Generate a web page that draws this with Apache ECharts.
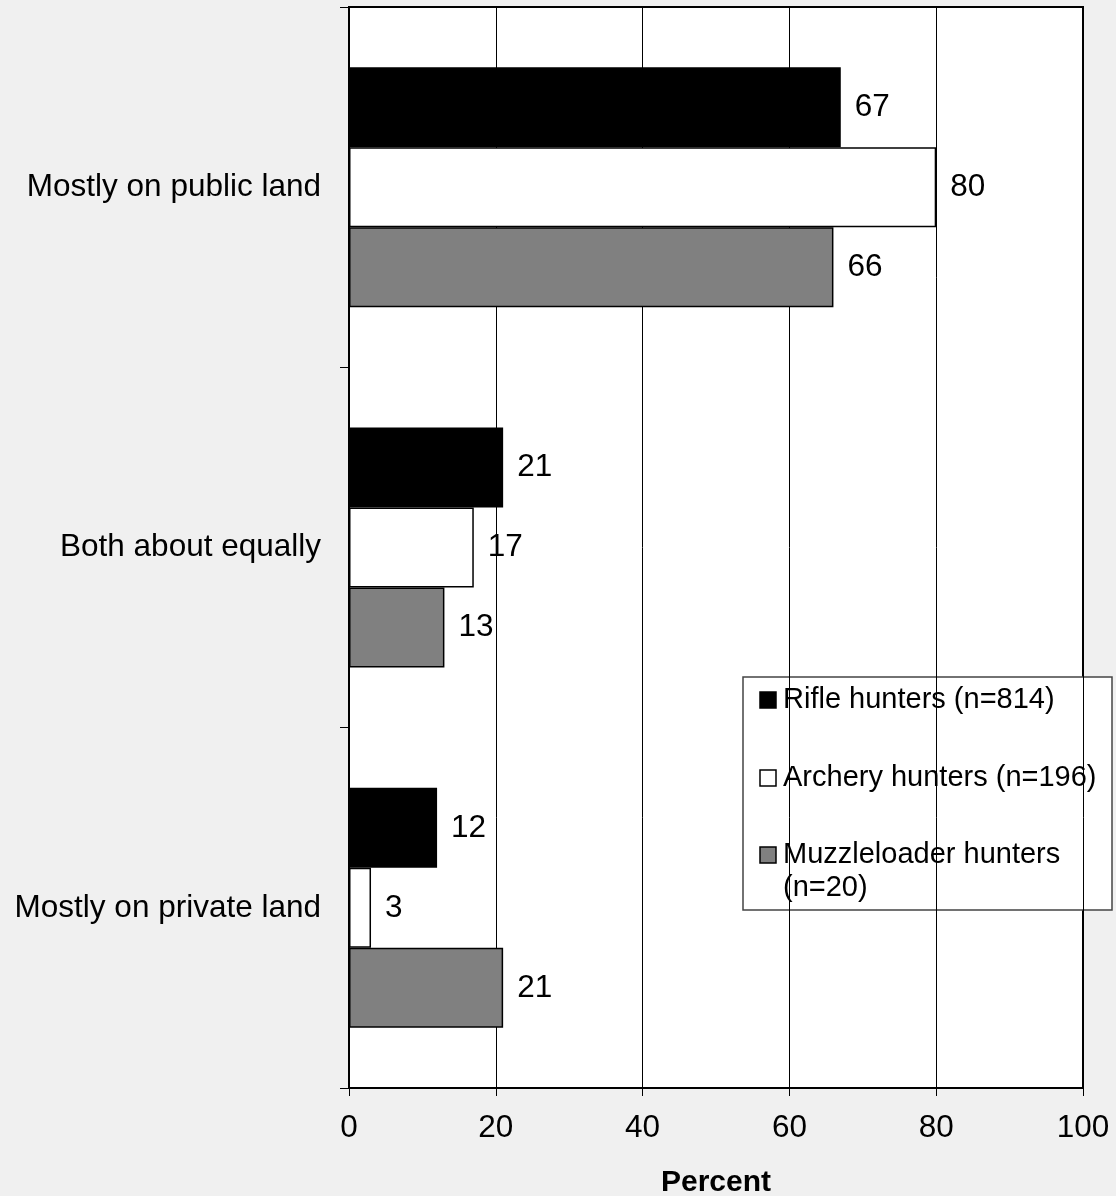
<!DOCTYPE html>
<html>
<head>
<meta charset="utf-8">
<script src="https://cdn.jsdelivr.net/npm/echarts@6/dist/echarts.min.js"></script>
<style>
html,body{margin:0;padding:0;background:#f0f0f0;}
#chart{width:1116px;height:1196px;}
</style>
</head>
<body>
<div id="chart"></div>
<script>
var categories = ['Mostly on public land', 'Both about equally', 'Mostly on private land'];
var seriesNames = ['Rifle hunters (n=814)', 'Archery hunters (n=196)', 'Muzzleloader hunters (n=20)'];
var legendLines = [['Rifle hunters (n=814)'], ['Archery hunters (n=196)'], ['Muzzleloader hunters', '(n=20)']];
var rifle = [67, 21, 12];
var archery = [80, 17, 3];
var muzzle = [66, 13, 21];
var colors = ['#000000', '#ffffff', '#808080'];
var xTicks = [0, 20, 40, 60, 80, 100];
var axisTitle = 'Percent';

var FONT = 'Arial, "Liberation Sans", sans-serif';
var chart = echarts.init(document.getElementById('chart'), null, {renderer: 'canvas'});

function mkSeries(name, data, color) {
  return {
    name: name,
    type: 'bar',
    data: data,
    barWidth: 80,
    barGap: '0%',
    itemStyle: {color: color, borderColor: '#000', borderWidth: 1.5},
    label: {show: true, position: 'right', distance: 14, color: '#000', fontSize: 31.5, fontFamily: FONT},
    emphasis: {disabled: true},
    animation: false
  };
}

// legend built as graphics
var legendChildren = [{
  type: 'rect', shape: {x: 743, y: 677, width: 369, height: 233},
  style: {fill: '#fff', stroke: '#444', lineWidth: 1.5}
}];
var rowY = [700, 778, 855];
for (var i = 0; i < 3; i++) {
  legendChildren.push({
    type: 'rect', shape: {x: 760, y: rowY[i] - 8, width: 16, height: 16},
    style: {fill: colors[i], stroke: '#000', lineWidth: 1.5}
  });
  for (var j = 0; j < legendLines[i].length; j++) {
    legendChildren.push({
      type: 'text', x: 783, y: rowY[i] + j * 33,
      style: {text: legendLines[i][j], fill: '#000', font: '29px ' + FONT, textVerticalAlign: 'middle', textAlign: 'left'}
    });
  }
}

var option = {
  backgroundColor: '#f0f0f0',
  animation: false,
  grid: {left: 349, right: 33, top: 7, bottom: 108, show: true, backgroundColor: '#fff', borderColor: '#000', borderWidth: 2, containLabel: false, outerBoundsMode: 'none'},
  xAxis: {
    type: 'value', min: 0, max: 100, interval: 20,
    name: axisTitle, nameLocation: 'middle', nameGap: 80,
    nameTextStyle: {fontSize: 30, fontWeight: 'bold', color: '#000', fontFamily: FONT},
    axisLine: {show: true, lineStyle: {color: '#000', width: 2}},
    axisTick: {show: true, length: 8, lineStyle: {color: '#000', width: 1}},
    axisLabel: {fontSize: 31.5, color: '#000', fontFamily: FONT, margin: 24,
      formatter: function (v) { return xTicks.indexOf(v) >= 0 ? String(v) : ''; }},
    splitLine: {show: true, lineStyle: {color: '#000', width: 1}}
  },
  yAxis: {
    type: 'category', data: categories, inverse: true,
    axisLine: {show: true, lineStyle: {color: '#000', width: 2}},
    axisTick: {show: true, length: 9, lineStyle: {color: '#000', width: 1}},
    axisLabel: {fontSize: 31.5, color: '#000', fontFamily: FONT, margin: 28},
    splitLine: {show: false}
  },
  series: [
    mkSeries(seriesNames[0], rifle, colors[0]),
    mkSeries(seriesNames[1], archery, colors[1]),
    mkSeries(seriesNames[2], muzzle, colors[2])
  ],
  graphic: [{type: 'group', z: 100, children: legendChildren}]
};
chart.setOption(option);
</script>
</body>
</html>
